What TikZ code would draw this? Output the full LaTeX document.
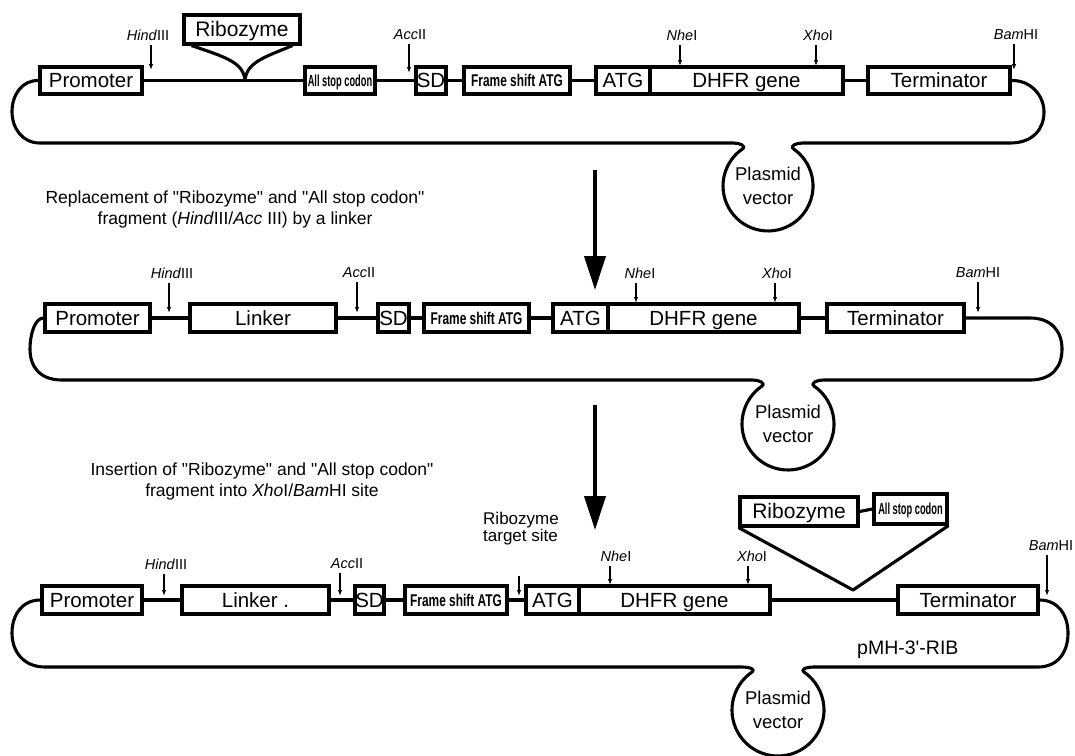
\documentclass[tikz,border=0pt]{standalone}
\usepackage{fontspec}
\setmainfont{Liberation Sans}
\newfontfamily\basefont{Liberation Sans}
\newfontfamily\condA[FakeStretch=0.58]{Liberation Sans Bold}
\newfontfamily\condB[FakeStretch=0.70]{Liberation Sans Bold}
\usetikzlibrary{arrows.meta}
\newcommand{\fs}[1]{\fontsize{#1}{#1}\selectfont}
\newcommand{\stopt}{\raisebox{1.5pt}{\condA\fs{16}All stop codon}}
\newcommand{\framet}{\raisebox{1.2pt}{\condB\fs{17}Frame shift ATG}}
\newcommand{\bx}[6]{\node[box, minimum width={(#4-#2)*1pt}, minimum height={(#5-#3)*1pt}] (#1) at ({(#2+#4)/2},{-(#3+#5)/2}) {#6};}
\tikzset{
  dna/.style={line width=3.1pt, line join=round},
  box/.style={draw, line width=3.1pt, fill=white, inner sep=0pt, text height=14.8pt, text depth=0pt, font=\fs{20.5}},
  site/.style={inner sep=0pt, font=\fs{14.5}},
  cut/.style={line width=1.3pt, -{Latex[length=6pt,width=4.5pt]}},
  bigarrow/.style={line width=4pt, -{Triangle[length=34pt,width=21pt]}},
  caption/.style={align=center, inner sep=0pt, font=\fontsize{17.5}{21}\selectfont},
  plas/.style={align=center, inner sep=0pt, font=\fontsize{18.5}{24}\selectfont},
}
\begin{document}
\basefont
\begin{tikzpicture}[x=1pt,y=1pt]
\useasboundingbox (0,0) rectangle (1075,-755);

% ================= Row 1 =================
\bx{prom1}{40}{67}{142}{94}{Promoter}
\bx{ribo1}{184}{15}{300}{44}{\fs{21}Ribozyme}
\bx{ast1}{305}{67}{375}{94}{\stopt}
\bx{sd1}{416}{67}{446}{94}{SD}
\bx{fs1}{464}{67}{570}{94}{\framet}
\bx{atg1}{596}{67}{650}{94}{ATG}
\bx{dhfr1}{650}{67}{843}{94}{DHFR gene}
\bx{term1}{868}{67}{1010}{94}{Terminator}
\coordinate (apex1) at (245,-80);
\draw[dna] (prom1.east) -- (ast1.west);
\draw[dna] (ast1.east) -- (sd1.west);
\draw[dna] (sd1.east) -- (fs1.west);
\draw[dna] (fs1.east) -- (atg1.west);
\draw[dna] (dhfr1.east) -- (term1.west);
\draw[dna] ([xshift=9pt]ribo1.south west) .. controls (225,-57) and (243,-62) .. (apex1)
  .. controls (247,-62) and (265,-57) .. ([xshift=-9pt]ribo1.south east);
\draw[dna] (prom1.west) .. controls (22,-80) and (12,-95) .. (12,-111.5)
  .. controls (12,-128) and (22,-143) .. (40,-143)
  -- (733.2,-143) .. controls (739.2,-143) and (747.1,-145.7) .. (742.2,-149.1)
  arc[start angle=125, end angle=415, radius=45]
  .. controls (788.9,-145.7) and (796.8,-143) .. (802.8,-143)
  -- (1010,-143) .. controls (1034,-143) and (1044,-128) .. (1044,-112)
  .. controls (1044,-95) and (1030,-80) .. (term1.east);
\node[plas] (pv1) at (768,-186) {Plasmid\\vector};
% sites row 1
\node[site] (hind1) at (148,-35) {\textit{Hind}III};
\node[site] (acc1) at (410,-35) {\textit{Acc}II};
\node[site] (nhe1) at (682,-35) {\textit{Nhe}I};
\node[site] (xho1) at (818,-35) {\textit{Xho}I};
\node[site] (bam1) at (1016,-35) {\textit{Bam}HI};
\coordinate (hind1t) at (151,-70);
\coordinate (acc1t) at (409,-73);
\coordinate (nhe1t) at (680,-66);
\coordinate (xho1t) at (816,-66);
\coordinate (bam1t) at (1014,-70);
\foreach \s in {hind1,acc1,nhe1,xho1,bam1}{
  \draw[cut] (\s t |- \s.south) ++(0,-4) -- (\s t);
}

% big arrow 1 and caption
\coordinate (a1s) at (595,-170);
\coordinate (a1e) at (595,-290);
\draw[bigarrow] (a1s) -- (a1e);
\node[caption] (cap1) at (235,-209) {Replacement of "Ribozyme" and "All stop codon"\\fragment (\textit{Hind}III/\textit{Acc} III) by a linker};

% ================= Row 2 =================
\bx{prom2}{45}{304}{150}{332}{Promoter}
\bx{link2}{190}{304}{336}{332}{Linker}
\bx{sd2}{378}{304}{409}{332}{SD}
\bx{fs2}{424}{304}{529}{332}{\framet}
\bx{atg2}{553}{304}{608}{332}{ATG}
\bx{dhfr2}{608}{304}{799}{332}{DHFR gene}
\bx{term2}{827}{304}{964}{332}{Terminator}
\draw[dna] (prom2.east) -- (link2.west);
\draw[dna] (link2.east) -- (sd2.west);
\draw[dna] (sd2.east) -- (fs2.west);
\draw[dna] (fs2.east) -- (atg2.west);
\draw[dna] (dhfr2.east) -- (term2.west);
\draw[dna] (prom2.west) .. controls (35,-318) and (30,-334) .. (30,-349)
  .. controls (30,-367) and (40,-380) .. (62,-380)
  -- (752.6,-380) .. controls (758.6,-380) and (766.5,-382.9) .. (761.6,-386.3)
  arc[start angle=125, end angle=415, radius=46]
  .. controls (809.5,-382.9) and (817.4,-380) .. (823.4,-380)
  -- (1030,-380) .. controls (1052,-380) and (1062,-367) .. (1062,-349)
  .. controls (1062,-332) and (1052,-318) .. (1030,-318) -- (term2.east);
\node[plas] (pv2) at (788,-424) {Plasmid\\vector};
\node[site] (hind2) at (172,-273) {\textit{Hind}III};
\node[site] (acc2) at (359,-273) {\textit{Acc}II};
\node[site] (nhe2) at (640,-273) {\textit{Nhe}I};
\node[site] (xho2) at (777,-273) {\textit{Xho}I};
\node[site] (bam2) at (978,-273) {\textit{Bam}HI};
\coordinate (hind2t) at (169,-313);
\coordinate (acc2t) at (357,-313);
\coordinate (nhe2t) at (636,-303);
\coordinate (xho2t) at (775,-303);
\coordinate (bam2t) at (978,-313);
\foreach \s in {hind2,acc2,nhe2,xho2,bam2}{
  \draw[cut] (\s t |- \s.south) ++(0,-4) -- (\s t);
}

% big arrow 2 and caption
\coordinate (a2s) at (595,-405);
\coordinate (a2e) at (595,-530);
\draw[bigarrow] (a2s) -- (a2e);
\node[caption] (cap2) at (262,-481) {Insertion of "Ribozyme" and "All stop codon"\\fragment into \textit{Xho}I/\textit{Bam}HI site};

% ================= Row 3 =================
\bx{prom3}{42}{586}{142}{614}{Promoter}
\bx{link3}{182}{586}{329}{614}{Linker .}
\bx{sd3}{355}{586}{384}{614}{SD}
\bx{fs3}{405}{586}{507}{614}{\framet}
\bx{atg3}{526}{586}{579}{614}{ATG}
\bx{dhfr3}{579}{586}{770}{614}{DHFR gene}
\bx{term3}{898}{586}{1038}{614}{Terminator}
\bx{ribo3}{740}{497}{858}{526}{\fs{21}Ribozyme}
\bx{ast3}{874}{494}{947}{524}{\stopt}
\coordinate (apex3) at (853,-590);
\draw[dna] (prom3.east) -- (link3.west);
\draw[dna] (link3.east) -- (sd3.west);
\draw[dna] (sd3.east) -- (fs3.west);
\draw[dna] (fs3.east) -- (atg3.west);
\draw[dna] (dhfr3.east) -- (term3.west);
\draw[dna] (ribo3.east) -- (ast3.west);
\draw[dna] (ribo3.south west) -- (apex3) -- (ast3.south east);
\draw[dna] (prom3.west) .. controls (22,-600) and (12,-615) .. (12,-633)
  .. controls (12,-652) and (24,-667) .. (45,-667)
  -- (742.6,-667) .. controls (748.6,-667) and (756.5,-668.9) .. (751.6,-672.3)
  arc[start angle=125, end angle=415, radius=46]
  .. controls (799.5,-668.9) and (807.4,-667) .. (813.4,-667)
  -- (1038,-667) .. controls (1058,-667) and (1068,-652) .. (1068,-633)
  .. controls (1068,-615) and (1058,-600) .. (term3.east);
\node[plas] (pv3) at (778,-710) {Plasmid\\vector};
\node[inner sep=0pt, font=\fs{19.5}, anchor=west] (pmh) at (857,-650) {pMH-3'-RIB};
\node[site] (hind3) at (166,-564) {\textit{Hind}III};
\node[site] (acc3) at (347,-564) {\textit{Acc}II};
\node[site] (nhe3) at (616,-556) {\textit{Nhe}I};
\node[site] (xho3) at (752,-556) {\textit{Xho}I};
\node[site] (bam3) at (1051,-546) {\textit{Bam}HI};
\coordinate (hind3t) at (164,-596);
\coordinate (acc3t) at (340,-596);
\coordinate (nhe3t) at (610,-585);
\coordinate (xho3t) at (748,-585);
\coordinate (bam3t) at (1047,-596);
\foreach \s in {hind3,acc3,nhe3,xho3,bam3}{
  \draw[cut] (\s t |- \s.south) ++(0,-4) -- (\s t);
}
\node[align=left, inner sep=0pt, anchor=west, font=\fontsize{17}{14.5}\selectfont] (tgt) at (483,-529) {Ribozyme\\target site};
\coordinate (tgts) at (519,-576);
\coordinate (tgtt) at (519,-596);
\draw[cut] (tgts) -- (tgtt);
\end{tikzpicture}
\end{document}
